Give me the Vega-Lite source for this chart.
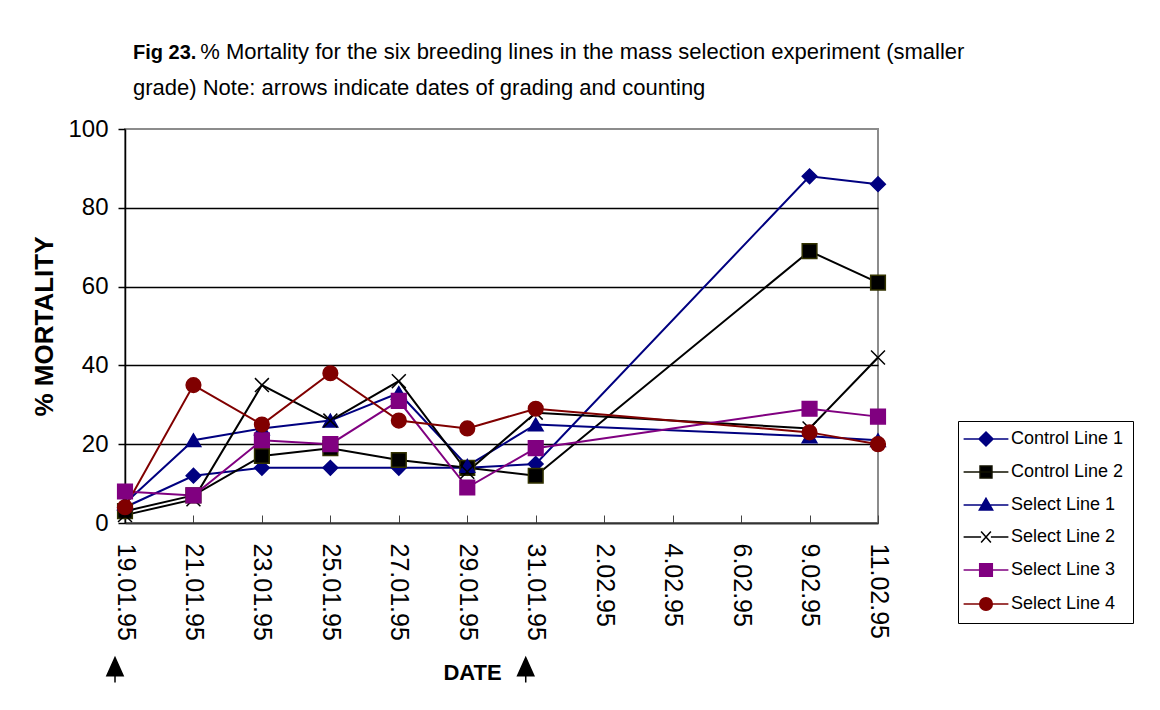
{
  "$schema": "https://vega.github.io/schema/vega-lite/v6.json",
  "width": 753,
  "height": 394,
  "autosize": {"type": "none"},
  "padding": {"left": 125, "top": 129, "right": 282, "bottom": 187},
  "background": "white",
  "title": {
    "text": "Fig 23.",
    "subtitle": [
      "\u200b\u00a0\u00a0\u00a0\u00a0\u00a0\u00a0\u00a0\u00a0\u00a0\u00a0\u00a0% Mortality for the six breeding lines in the mass selection experiment (smaller",
      "grade) Note: arrows indicate dates of grading and counting"
    ],
    "anchor": "start",
    "frame": "group",
    "dx": 8,
    "offset": 16,
    "font": "Liberation Sans",
    "fontSize": 20,
    "fontWeight": "bold",
    "color": "black",
    "subtitleFont": "Liberation Sans",
    "subtitleFontSize": 22,
    "subtitleColor": "black",
    "subtitleLineHeight": 36,
    "subtitlePadding": -21
  },
  "config": {
    "view": {"stroke": "#8c8c8c", "strokeWidth": 2},
    "font": "Liberation Sans",
    "legend": {"symbolFillColor": "black"}
  },
  "resolve": {
    "scale": {"color": "independent", "fill": "independent", "stroke": "independent", "shape": "independent"}
  },
  "datasets": {
    "mortality": [
      {"date": "19.01.95", "doy": 19, "line": "Control Line 1", "pct": 4},
      {"date": "21.01.95", "doy": 21, "line": "Control Line 1", "pct": 12},
      {"date": "23.01.95", "doy": 23, "line": "Control Line 1", "pct": 14},
      {"date": "25.01.95", "doy": 25, "line": "Control Line 1", "pct": 14},
      {"date": "27.01.95", "doy": 27, "line": "Control Line 1", "pct": 14},
      {"date": "29.01.95", "doy": 29, "line": "Control Line 1", "pct": 14},
      {"date": "31.01.95", "doy": 31, "line": "Control Line 1", "pct": 15},
      {"date": "9.02.95", "doy": 40, "line": "Control Line 1", "pct": 88},
      {"date": "11.02.95", "doy": 42, "line": "Control Line 1", "pct": 86},

      {"date": "19.01.95", "doy": 19, "line": "Control Line 2", "pct": 3},
      {"date": "21.01.95", "doy": 21, "line": "Control Line 2", "pct": 7},
      {"date": "23.01.95", "doy": 23, "line": "Control Line 2", "pct": 17},
      {"date": "25.01.95", "doy": 25, "line": "Control Line 2", "pct": 19},
      {"date": "27.01.95", "doy": 27, "line": "Control Line 2", "pct": 16},
      {"date": "29.01.95", "doy": 29, "line": "Control Line 2", "pct": 14},
      {"date": "31.01.95", "doy": 31, "line": "Control Line 2", "pct": 12},
      {"date": "9.02.95", "doy": 40, "line": "Control Line 2", "pct": 69},
      {"date": "11.02.95", "doy": 42, "line": "Control Line 2", "pct": 61},

      {"date": "19.01.95", "doy": 19, "line": "Select Line 1", "pct": 5},
      {"date": "21.01.95", "doy": 21, "line": "Select Line 1", "pct": 21},
      {"date": "23.01.95", "doy": 23, "line": "Select Line 1", "pct": 24},
      {"date": "25.01.95", "doy": 25, "line": "Select Line 1", "pct": 26},
      {"date": "27.01.95", "doy": 27, "line": "Select Line 1", "pct": 33},
      {"date": "29.01.95", "doy": 29, "line": "Select Line 1", "pct": 14.5},
      {"date": "31.01.95", "doy": 31, "line": "Select Line 1", "pct": 25},
      {"date": "9.02.95", "doy": 40, "line": "Select Line 1", "pct": 22},
      {"date": "11.02.95", "doy": 42, "line": "Select Line 1", "pct": 21},

      {"date": "19.01.95", "doy": 19, "line": "Select Line 2", "pct": 2},
      {"date": "21.01.95", "doy": 21, "line": "Select Line 2", "pct": 6},
      {"date": "23.01.95", "doy": 23, "line": "Select Line 2", "pct": 35},
      {"date": "25.01.95", "doy": 25, "line": "Select Line 2", "pct": 26},
      {"date": "27.01.95", "doy": 27, "line": "Select Line 2", "pct": 36},
      {"date": "29.01.95", "doy": 29, "line": "Select Line 2", "pct": 13},
      {"date": "31.01.95", "doy": 31, "line": "Select Line 2", "pct": 28},
      {"date": "9.02.95", "doy": 40, "line": "Select Line 2", "pct": 24},
      {"date": "11.02.95", "doy": 42, "line": "Select Line 2", "pct": 42},

      {"date": "19.01.95", "doy": 19, "line": "Select Line 3", "pct": 8},
      {"date": "21.01.95", "doy": 21, "line": "Select Line 3", "pct": 7},
      {"date": "23.01.95", "doy": 23, "line": "Select Line 3", "pct": 21},
      {"date": "25.01.95", "doy": 25, "line": "Select Line 3", "pct": 20},
      {"date": "27.01.95", "doy": 27, "line": "Select Line 3", "pct": 31},
      {"date": "29.01.95", "doy": 29, "line": "Select Line 3", "pct": 9},
      {"date": "31.01.95", "doy": 31, "line": "Select Line 3", "pct": 19},
      {"date": "9.02.95", "doy": 40, "line": "Select Line 3", "pct": 29},
      {"date": "11.02.95", "doy": 42, "line": "Select Line 3", "pct": 27},

      {"date": "19.01.95", "doy": 19, "line": "Select Line 4", "pct": 4},
      {"date": "21.01.95", "doy": 21, "line": "Select Line 4", "pct": 35},
      {"date": "23.01.95", "doy": 23, "line": "Select Line 4", "pct": 25},
      {"date": "25.01.95", "doy": 25, "line": "Select Line 4", "pct": 38},
      {"date": "27.01.95", "doy": 27, "line": "Select Line 4", "pct": 26},
      {"date": "29.01.95", "doy": 29, "line": "Select Line 4", "pct": 24},
      {"date": "31.01.95", "doy": 31, "line": "Select Line 4", "pct": 29},
      {"date": "9.02.95", "doy": 40, "line": "Select Line 4", "pct": 23},
      {"date": "11.02.95", "doy": 42, "line": "Select Line 4", "pct": 20}
    ],
    "gradings": [
      {"date": "19.01.95", "event": "grading and counting"},
      {"date": "31.01.95", "event": "grading and counting"}
    ]
  },
  "layer": [
    {
      "data": {"name": "mortality"},
      "mark": {"type": "line", "strokeWidth": 2},
      "encoding": {
        "x": {
          "field": "date",
          "type": "ordinal",
          "scale": {
            "type": "point",
            "padding": 0,
            "domain": ["19.01.95", "21.01.95", "23.01.95", "25.01.95", "27.01.95", "29.01.95", "31.01.95", "2.02.95", "4.02.95", "6.02.95", "9.02.95", "11.02.95"]
          },
          "axis": {
            "title": "DATE",
            "titleFont": "Liberation Sans",
            "titleFontSize": 22,
            "titleFontWeight": "bold",
            "titleColor": "black",
            "titleAlign": "center",
            "titleBaseline": "middle",
            "titleX": 347,
            "titleY": 149,
            "labelAngle": 90,
            "labelAlign": "left",
            "labelBaseline": "middle",
            "labelFontSize": 25,
            "labelColor": "black",
            "labelPadding": 28,
            "labelFlush": false,
            "labelOverlap": false,
            "tickSize": -8,
            "tickColor": "#444444",
            "tickWidth": 1,
            "domainColor": "#333333",
            "domainWidth": 2,
            "grid": false
          }
        },
        "y": {
          "field": "pct",
          "type": "quantitative",
          "scale": {"domain": [0, 100], "nice": false},
          "axis": {
            "title": "% MORTALITY",
            "titleFont": "Liberation Sans",
            "titleFontSize": 26,
            "titleFontWeight": "bold",
            "titleColor": "black",
            "titlePadding": 10,
            "values": [0, 20, 40, 60, 80, 100],
            "labelFontSize": 24,
            "labelColor": "black",
            "labelPadding": 10,
            "tickSize": 7,
            "tickColor": "black",
            "tickWidth": 1.5,
            "domainColor": "black",
            "domainWidth": 1.5,
            "grid": true,
            "gridColor": {"condition": {"test": "datum.value == 0 || datum.value == 100", "value": "transparent"}, "value": "black"},
            "gridWidth": 1.5
          }
        },
        "order": {"field": "doy", "type": "quantitative"},
        "color": {
          "field": "line",
          "type": "nominal",
          "scale": {
            "domain": ["Select Line 4", "Select Line 3", "Select Line 2", "Select Line 1", "Control Line 2", "Control Line 1"],
            "range": ["#800000", "#800080", "#000000", "#000080", "#000000", "#000080"]
          },
          "legend": null
        }
      }
    },
    {
      "data": {"name": "mortality"},
      "mark": {"type": "point", "filled": true, "size": 215, "strokeWidth": 1.5, "opacity": 1},
      "encoding": {
        "x": {"field": "date", "type": "ordinal"},
        "y": {"field": "pct", "type": "quantitative"},
        "fill": {
          "field": "line",
          "type": "nominal",
          "scale": {
            "domain": ["Select Line 4", "Select Line 3", "Select Line 2", "Select Line 1", "Control Line 2", "Control Line 1"],
            "range": ["#800000", "#800080", "#000000", "#000080", "#000000", "#000080"]
          },
          "legend": null
        },
        "stroke": {
          "field": "line",
          "type": "nominal",
          "scale": {
            "domain": ["Select Line 4", "Select Line 3", "Select Line 2", "Select Line 1", "Control Line 2", "Control Line 1"],
            "range": ["#800000", "#800080", "#000000", "#000080", "#333300", "#000080"]
          },
          "legend": null
        },
        "shape": {
          "field": "line",
          "type": "nominal",
          "scale": {
            "domain": ["Select Line 4", "Select Line 3", "Select Line 2", "Select Line 1", "Control Line 2", "Control Line 1"],
            "range": ["circle", "square", "M-0.95,-0.95L0.95,0.95M-0.95,0.95L0.95,-0.95", "triangle-up", "square", "diamond"]
          },
          "legend": null
        }
      }
    },
    {
      "data": {"name": "mortality"},
      "mark": {"type": "point", "filled": true, "size": 196, "strokeWidth": 1.5, "opacity": 0},
      "encoding": {
        "x": {"field": "date", "type": "ordinal"},
        "y": {"field": "pct", "type": "quantitative"},
        "fill": {
          "field": "line",
          "type": "nominal",
          "scale": {
            "domain": ["Control Line 1", "Control Line 2", "Select Line 1", "Select Line 2", "Select Line 3", "Select Line 4"],
            "range": ["#000080", "#000000", "#000080", "#000000", "#800080", "#800000"]
          },
          "legend": {
            "title": null,
            "orient": "none",
            "legendX": 833,
            "legendY": 292,
            "direction": "vertical",
            "padding": 9,
            "strokeColor": "black",
            "fillColor": "white",
            "labelFont": "Liberation Sans",
            "labelFontSize": 18,
            "labelColor": "black",
            "labelLimit": 200,
            "rowPadding": 14,
            "symbolSize": 196,
            "symbolStrokeWidth": 1.5,
            "symbolOpacity": 1,
            "symbolOffset": 10,
            "labelOffset": 16
          }
        },
        "stroke": {
          "field": "line",
          "type": "nominal",
          "scale": {
            "domain": ["Control Line 1", "Control Line 2", "Select Line 1", "Select Line 2", "Select Line 3", "Select Line 4"],
            "range": ["#000080", "#111100", "#000080", "#000000", "#800080", "#800000"]
          }
        },
        "shape": {
          "field": "line",
          "type": "nominal",
          "scale": {
            "domain": ["Control Line 1", "Control Line 2", "Select Line 1", "Select Line 2", "Select Line 3", "Select Line 4"],
            "range": [
              "M-3.2,0H3.2M0,-1L1,0L0,1L-1,0Z",
              "M-3.2,0H3.2M-0.85,-0.85H0.85V0.85H-0.85Z",
              "M-3.2,0H3.2M0,-0.95L0.95,0.7H-0.95Z",
              "M-3.2,0H-0.7M0.7,0H3.2M-0.7,-0.8L0.7,0.8M-0.7,0.8L0.7,-0.8",
              "M-3.2,0H3.2M-0.9,-0.9H0.9V0.9H-0.9Z",
              "M-3.2,0H3.2M-0.9,0A0.9,0.9,0,1,0,0.9,0A0.9,0.9,0,1,0,-0.9,0Z"
            ]
          }
        }
      }
    },
    {
      "data": {"name": "gradings"},
      "mark": {"type": "point", "filled": true, "opacity": 1, "size": 625, "color": "black", "strokeWidth": 1.5, "stroke": "black", "shape": "M0,-1L0.65,0.45L-0.65,0.45ZM0,0.45V1"},
      "encoding": {
        "x": {"field": "date", "type": "ordinal"},
        "y": {"value": 541},
        "xOffset": {"value": -10}
      }
    }
  ]
}
